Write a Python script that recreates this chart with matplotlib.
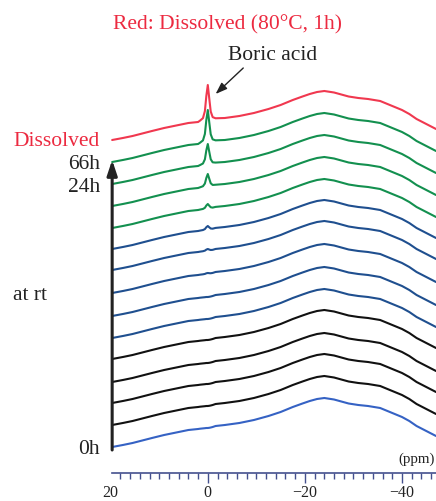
import matplotlib
matplotlib.use("Agg")
import matplotlib.pyplot as plt
import numpy as np

# ---- data -------------------------------------------------------------
ppm = [19.7, 17.5, 15.5, 13.5, 11.5, 9.0, 6.0, 4.0, 2.0, 1.6, 1.0, 0.6, 0.3, 0.0,
       -0.3, -0.6, -1.0, -1.6, -3.5, -6.5, -9.5, -12.5, -15.0, -17.5, -19.5, -21.0,
       -22.5, -24.0, -26.0, -27.5, -29.0, -31.0, -33.0, -35.5, -37.5, -40.0, -41.5,
       -43.0, -45.0, -47.0]
# broad 11B profile (intensity above the left end of each trace)
broad = [0, 2, 4, 6.5, 9, 12, 15, 17, 18, 18.3, 18.6, 18.8, 19, 19,
         19.2, 19.5, 20, 21, 22, 24, 27, 31, 35, 40, 43.5, 46,
         48, 49, 47.5, 45.5, 43.5, 42, 41, 39, 35, 30, 26,
         21, 16, 11]
# normalised shape of the sharp boric-acid line
boric_shape = [0, 0, 0, 0, 0, 0, 0, 0, 0, 0.03, 0.09, 0.28, 0.7, 1.0,
               0.62, 0.25, 0.08, 0.02, 0, 0, 0, 0, 0, 0, 0, 0,
               0, 0, 0, 0, 0, 0, 0, 0, 0, 0, 0,
               0, 0, 0]
# traces from top (dissolved) to bottom (0h)
trace_names = ["Dissolved", "66h", "g2", "24h", "g4", "b1", "b2", "b3", "b4", "b5",
               "k1", "k2", "k3", "k4", "0h"]
trace_offsets = [361, 339, 317, 295, 273, 252, 231, 208, 185, 163,
                 142, 119, 98, 76, 54]
boric_heights = [36, 33, 21, 13, 5, 4, 2, 1, 0, 0, 0, 0, 0, 0, 0]
trace_colors = ["#f0384f", "#13904f", "#13904f", "#13904f", "#13904f",
                "#1f4f8f", "#1f4f8f", "#1f4f8f", "#1f4f8f", "#1f4f8f",
                "#111111", "#111111", "#111111", "#111111", "#3562c4"]

xticks_major = [20, 0, -20, -40]
xticks_labels = ["20", "0", "\u221220", "\u221240"]
xticks_minor = list(range(18, -47, -2))

# ---- figure -----------------------------------------------------------
W, H = 436, 502
fig = plt.figure(figsize=(W / 100, H / 100), dpi=100)
ax = fig.add_axes([0, 0, 1, 1])
ax.set_xlim(42.8, -47.0)
ax.set_ylim(0, H)

serif = ["Liberation Serif", "DejaVu Serif"]
dark = "#222222"
red = "#ec2a40"

ppm_a = np.array(ppm)
broad_a = np.array(broad)
shape_a = np.array(boric_shape)
for off, hgt, col in zip(trace_offsets[::-1], boric_heights[::-1], trace_colors[::-1]):
    ax.plot(ppm_a, off + broad_a + hgt * shape_a, color=col, lw=1.5,
            solid_joinstyle="round", solid_capstyle="round")

# axis
for s in ["top", "left", "right"]:
    ax.spines[s].set_visible(False)
axcol = "#44508e"
ax.spines["bottom"].set_position(("data", H - 474))
ax.spines["bottom"].set_bounds(19.7, -47)
ax.spines["bottom"].set_color(axcol)
ax.spines["bottom"].set_linewidth(1.2)
ax.set_yticks([])
ax.set_xticks(xticks_major)
ax.set_xticklabels(xticks_labels, fontfamily=serif, fontsize=11.5, color=dark)
ax.set_xticks(xticks_minor, minor=True)
ax.tick_params(axis="x", which="major", direction="out", length=7.5, width=1.0,
               color=axcol, pad=0.5)
ax.tick_params(axis="x", which="minor", direction="out", length=4.3, width=1.0,
               color=axcol)
ax.xaxis.get_major_ticks()[0].tick1line.set_visible(False)

# vertical time arrow
ax.annotate("", xy=(19.7, H - 161), xytext=(19.7, H - 451),
            arrowprops=dict(arrowstyle="-|>,head_length=0.9,head_width=0.3",
                            lw=2.2, color=dark, shrinkA=0, shrinkB=0))

# boric acid arrow
ax.annotate("", xy=(-1.6, H - 95), xytext=(-7.3, H - 69),
            arrowprops=dict(arrowstyle="-|>,head_length=0.7,head_width=0.25",
                            lw=1.0, color=dark, shrinkA=0, shrinkB=0))

def ftxt(px, py, s, **kw):
    fig.text(px / W, 1 - py / H, s, fontfamily=serif, **kw)

ftxt(227, 25, "Red: Dissolved (80°C, 1h)", fontsize=15.5, color=red,
     ha="center", va="center")
ftxt(273, 55, "Boric acid", fontsize=15.5, color=dark, ha="center", va="center")
ftxt(100, 142, "Dissolved", fontsize=15.5, color=red, ha="right", va="center")
ftxt(100, 165, "66h", fontsize=15.5, color=dark, ha="right", va="center")
ftxt(100, 187, "24h", fontsize=15.5, color=dark, ha="right", va="center")
ftxt(13, 296, "at rt", fontsize=15.5, color=dark, ha="left", va="center")
ftxt(100, 450, "0h", fontsize=15.5, color=dark, ha="right", va="center")
ftxt(435, 459, "(ppm)", fontsize=10.8, color=dark, ha="right", va="center")

fig.savefig("out.png", dpi=100)
